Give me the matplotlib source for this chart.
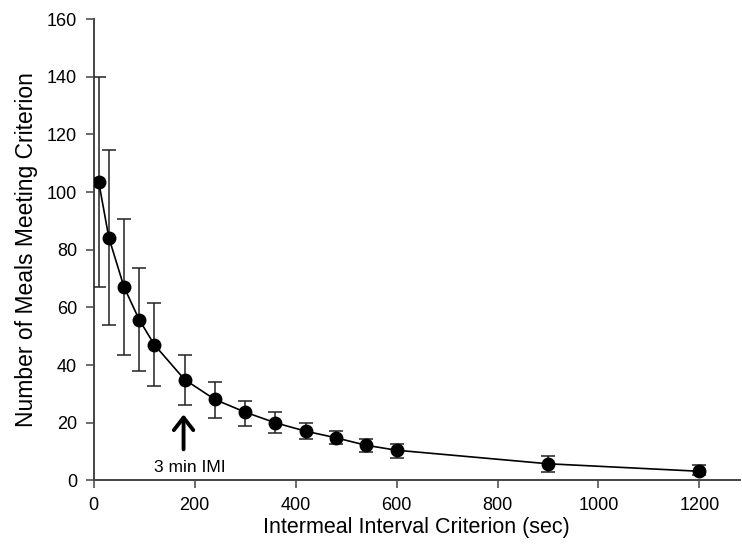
import matplotlib
matplotlib.use("Agg")
import matplotlib.pyplot as plt

# Intermeal interval criterion (sec) and mean number of meals meeting it
imi_sec = [10, 30, 60, 90, 120, 180, 240, 300, 360, 420, 480, 540, 600, 900, 1200]
meals_mean = [103.4, 84.2, 67.1, 55.8, 47.1, 35.0, 28.1, 23.7, 20.0, 17.1, 14.8, 12.2, 10.5, 5.8, 3.2]
err_upper = [139.8, 114.7, 90.7, 73.6, 61.6, 43.4, 34.1, 27.7, 23.6, 20.0, 17.0, 14.4, 12.7, 8.4, 5.5]
err_lower = [67.0, 53.8, 43.4, 38.1, 32.6, 26.2, 21.8, 18.8, 16.3, 14.4, 12.5, 9.9, 7.7, 3.0, 1.8]

x_ticks = [0, 200, 400, 600, 800, 1000, 1200]
y_ticks = [0, 20, 40, 60, 80, 100, 120, 140, 160]

plt.rcParams['font.family'] = ['Liberation Sans', 'DejaVu Sans']

fig = plt.figure(figsize=(7.42, 5.56), dpi=100)
ax = fig.add_axes([0.1263, 0.1358, 0.8707, 0.830])

yerr = [[m - lo for m, lo in zip(meals_mean, err_lower)],
        [hi - m for m, hi in zip(meals_mean, err_upper)]]

ax.errorbar(imi_sec, meals_mean, yerr=yerr, fmt='-o', color='black',
            ecolor='#222222', elinewidth=1.1, capsize=5.3, capthick=1.1,
            markersize=9, linewidth=1.2, zorder=3)

# Arrow marking the 3 min criterion
ax.annotate('', xy=(178, 22.9), xytext=(178, 10.8),
            arrowprops=dict(arrowstyle='->,head_width=0.7,head_length=0.9',
                            lw=2.8, color='black', shrinkA=0, shrinkB=0))
ax.text(190, 4.6, '3 min IMI', ha='center', va='center', fontsize=12.5)

ax.set_xlim(0, 1280)
ax.set_ylim(0, 160)
ax.set_xticks(x_ticks)
ax.set_yticks(y_ticks)
ax.tick_params(axis='both', labelsize=13, length=6, width=1.1,
               color='#444444', direction='out', pad=6)

for side in ('top', 'right'):
    ax.spines[side].set_visible(False)
for side in ('left', 'bottom'):
    ax.spines[side].set_linewidth(1.4)
    ax.spines[side].set_color('#444444')

ax.set_xlabel('Intermeal Interval Criterion (sec)', fontsize=15.5, labelpad=2)
ax.set_ylabel('Number of Meals Meeting Criterion', fontsize=16.5, labelpad=6)

fig.savefig('out.png', dpi=100)
